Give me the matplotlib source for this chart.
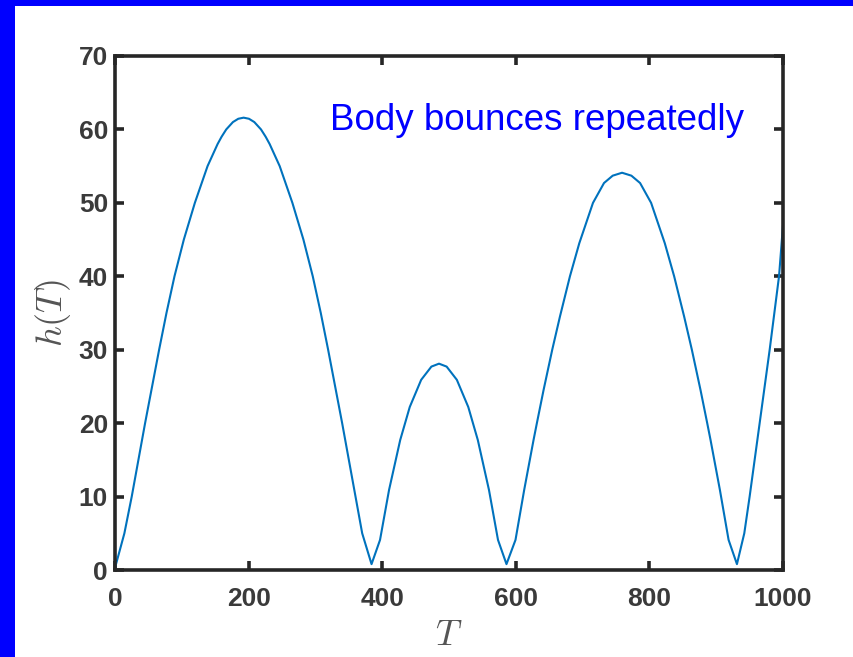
import matplotlib
matplotlib.use("Agg")
import matplotlib.pyplot as plt
from matplotlib.patches import Rectangle

# curve, bounce by bounce
t_arc1 = [0, 14, 25, 35, 45, 55.5, 66, 77, 89, 103, 119.5, 138.5, 153.5, 159.5, 166.5,
          176.5, 184.5, 192.5, 200.5, 208.5, 218.5, 225.5, 231.5, 246.5, 265.5, 282,
          296, 308, 319, 329.5, 340, 350, 360, 370, 384]
h_arc1 = [0.3, 5, 10, 15, 20, 25, 30, 35, 40, 45, 50, 55, 58, 59, 60,
          61, 61.45, 61.6, 61.45, 61, 60, 59, 58, 55, 50, 45,
          40, 35, 30, 25, 20, 15, 10, 5, 0.8]

t_arc2 = [396.7, 410.2, 426.9, 441.2, 458.3, 473.6, 485, 496.4, 511.7, 528.8, 543.1,
          559.8, 573.3, 586]
h_arc2 = [4.1, 10.9, 17.7, 22.2, 25.9, 27.7, 28.1, 27.7, 25.9, 22.2, 17.7,
          10.9, 4.1, 0.8]

t_arc3 = [599.5, 612.5, 626.5, 631.5, 641.5, 654.5, 666, 681, 695, 715.5, 732, 745,
          759, 773, 786, 802.5, 823, 837, 852, 863.5, 876.5, 886.5, 891.5, 905.5,
          918.5, 931]
h_arc3 = [4.1, 10.9, 17.7, 20, 24.5, 30, 34.5, 40, 44.5, 50, 52.7, 53.7,
          54.1, 53.7, 52.7, 50, 44.5, 40, 34.5, 30, 24.5, 20, 17.7, 10.9,
          4.1, 0.8]

t_arc4 = [942, 950, 965, 980, 994, 1000]
h_arc4 = [5, 10, 20, 30, 40, 47]

T = t_arc1 + t_arc2 + t_arc3 + t_arc4
h = h_arc1 + h_arc2 + h_arc3 + h_arc4

x_ticks = [0, 200, 400, 600, 800, 1000]
y_ticks = [0, 10, 20, 30, 40, 50, 60, 70]
note = "Body bounces repeatedly"

plt.rcParams['mathtext.fontset'] = 'cm'

fig = plt.figure(figsize=(8.54, 6.57), dpi=100)
fig.patch.set_facecolor('white')

# blue slide frame on the left and top
fig.patches.append(Rectangle((0, 0), 15 / 854, 1, transform=fig.transFigure,
                             facecolor='#0000FF', edgecolor='none'))
fig.patches.append(Rectangle((0, 1 - 6 / 657), 1, 6 / 657, transform=fig.transFigure,
                             facecolor='#0000FF', edgecolor='none'))

ax = fig.add_axes([0.1347, 0.1324, 0.7822, 0.7824])
ax.plot(T, h, color='#0072BD', linewidth=1.5)

ax.set_xlim(0, 1000)
ax.set_ylim(0, 70)
ax.set_xticks(x_ticks)
ax.set_yticks(y_ticks)

for s in ax.spines.values():
    s.set_linewidth(2.6)
    s.set_color('#262626')

ax.tick_params(direction='in', length=6.5, width=2.6, color='#262626',
               top=True, right=True, labelsize=19, labelcolor='#3a3a3a')
ax.tick_params(axis='x', pad=12)
ax.tick_params(axis='y', pad=5)
for lab in ax.get_xticklabels() + ax.get_yticklabels():
    lab.set_fontfamily('Liberation Sans')
    lab.set_fontweight('bold')

ax.set_xlabel('$T$', fontsize=26, color='#555555', labelpad=5)
ax.set_ylabel('$h(T)$', fontsize=26, color='#555555', labelpad=4)

ax.text(0.322, 0.856, note, transform=ax.transAxes, color='#0000FF',
        fontsize=26.5, family='Liberation Sans', va='baseline', ha='left')

plt.savefig('out.png', dpi=100)
